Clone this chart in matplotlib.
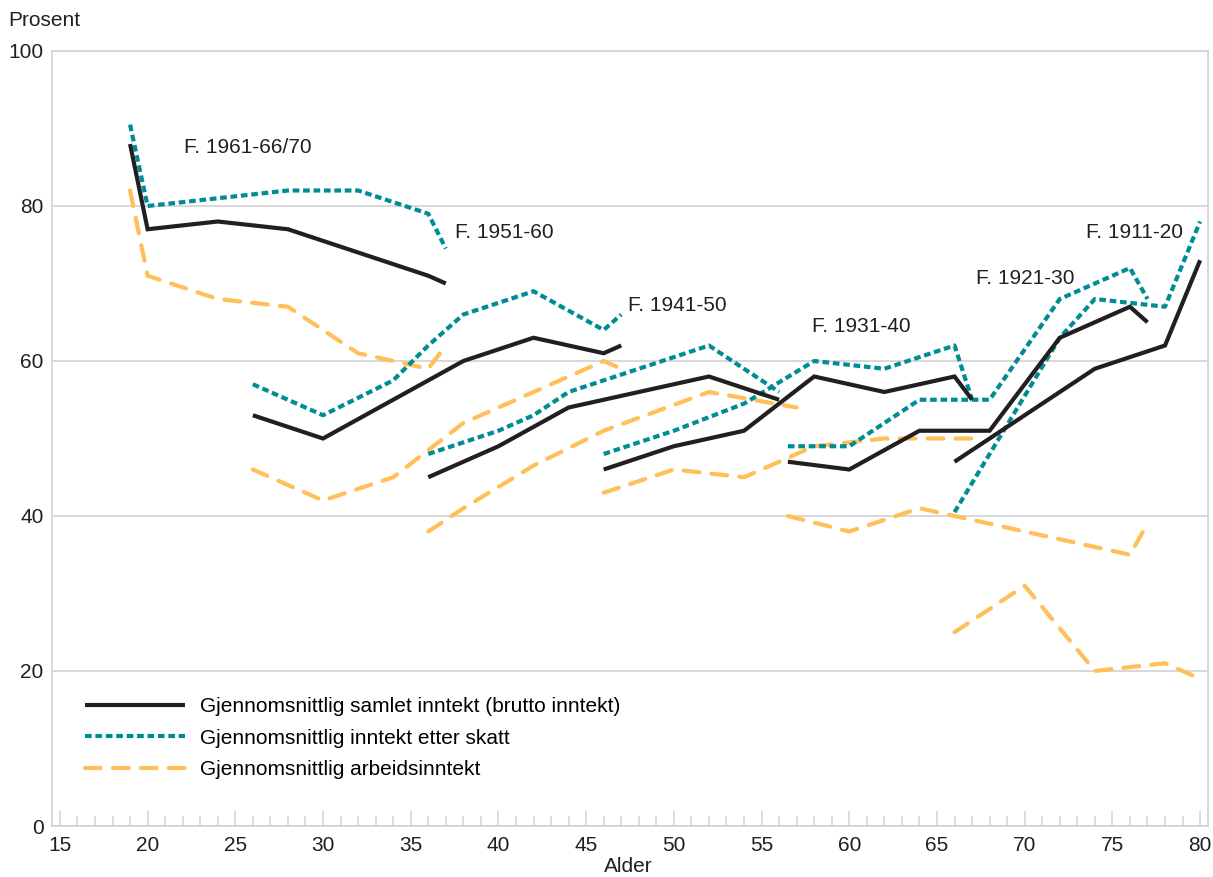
import matplotlib
matplotlib.use("Agg")
import matplotlib.pyplot as plt
from matplotlib.ticker import MultipleLocator
from matplotlib.lines import Line2D

plt.rcParams['font.family'] = ['Liberation Sans', 'DejaVu Sans']

# ---------------- data (alder -> prosent) ----------------
# Cohort F. 1961-66/70
age_1961 = [19, 20, 24, 28, 32, 36, 37]
brutto_1961 = [88, 77, 78, 77, 74, 71, 70]
skatt_1961 = [90.5, 80, 81, 82, 82, 79, 74.5]
arbeid_1961 = [82, 71, 68, 67, 61, 59, 62]

# Cohort F. 1951-60
age_1951 = [26, 30, 34, 36, 38, 42, 46, 47]
brutto_1951 = [53, 50, 55, 57.5, 60, 63, 61, 62]
skatt_1951 = [57, 53, 57.5, 62, 66, 69, 64, 66]
arbeid_1951 = [46, 42, 45, 48.5, 52, 56, 60, 59]

# Cohort F. 1941-50
age_1941 = [36, 38, 40, 42, 44, 46, 52, 56]
brutto_1941 = [45, 47, 49, 51.5, 54, 55, 58, 55]
skatt_1941 = [48, 49.5, 51, 53, 56, 57.5, 62, 56]
age_1941_arb = [36, 38, 42, 46, 52, 57]
arbeid_1941 = [38, 41, 46.5, 51, 56, 54]

# Cohort F. 1931-40
age_1931 = [46, 50, 54, 58, 62, 66, 67]
brutto_1931 = [46, 49, 51, 58, 56, 58, 55]
skatt_1931 = [48, 51, 54.5, 60, 59, 62, 55]
arbeid_1931 = [43, 46, 45, 49, 50, 50, 50]

# Cohort F. 1921-30
age_1921 = [56.5, 60, 64, 68, 72, 76, 77]
brutto_1921 = [47, 46, 51, 51, 63, 67, 65]
skatt_1921 = [49, 49, 55, 55, 68, 72, 68]
arbeid_1921 = [40, 38, 41, 39, 37, 35, 39]

# Cohort F. 1911-20
age_1911 = [66, 68, 74, 78, 80]
brutto_1911 = [47, 50, 59, 62, 73]
age_1911_skatt = [66, 72, 74, 78, 80]
skatt_1911 = [40.5, 63, 68, 67, 78]
age_1911_arb = [66, 70, 74, 78, 80]
arbeid_1911 = [25, 31, 20, 21, 19]

cohort_labels = ["F. 1961-66/70", "F. 1951-60", "F. 1941-50",
                 "F. 1931-40", "F. 1921-30", "F. 1911-20"]
label_x = [22.1, 37.5, 47.4, 57.9, 67.2, 73.5]
label_y = [87.5, 76.6, 67.1, 64.5, 70.7, 76.6]

legend_labels = ["Gjennomsnittlig samlet inntekt (brutto inntekt)",
                 "Gjennomsnittlig inntekt etter skatt",
                 "Gjennomsnittlig arbeidsinntekt"]

# ---------------- styles ----------------
BLACK = "#231f20"
TEAL = "#008c95"
ORANGE = "#ffc05a"
GRID = "#d2d2d2"
LW = 3.0
FS = 15

brutto_style = dict(color=BLACK, lw=LW, solid_capstyle='butt', solid_joinstyle='miter')
skatt_style = dict(color=TEAL, lw=LW, dashes=(1.6, 0.9), dash_capstyle='butt')
arbeid_style = dict(color=ORANGE, lw=LW, dashes=(3.8, 2.9), dash_capstyle='round')

W, H = 1213, 877
fig = plt.figure(figsize=(W / 100, H / 100), dpi=100)
ax = fig.add_axes([52 / W, 1 - 826 / H, (1208 - 52) / W, (826 - 51) / H])

series = [
    (age_1961, brutto_1961, age_1961, skatt_1961, age_1961, arbeid_1961),
    (age_1951, brutto_1951, age_1951, skatt_1951, age_1951, arbeid_1951),
    (age_1941, brutto_1941, age_1941, skatt_1941, age_1941_arb, arbeid_1941),
    (age_1931, brutto_1931, age_1931, skatt_1931, age_1931, arbeid_1931),
    (age_1921, brutto_1921, age_1921, skatt_1921, age_1921, arbeid_1921),
    (age_1911, brutto_1911, age_1911_skatt, skatt_1911, age_1911_arb, arbeid_1911),
]

for ab, b, asx, s, aa, a in series:
    ax.plot(aa, a, zorder=3, **arbeid_style)
    ax.plot(asx, s, zorder=4, **skatt_style)
    ax.plot(ab, b, zorder=5, **brutto_style)

for txt, lx, ly in zip(cohort_labels, label_x, label_y):
    ax.text(lx, ly, txt, fontsize=FS, color=BLACK, ha='left', va='center', zorder=6)

ax.set_xlim(14.55, 80.45)
ax.set_ylim(0, 100)
ax.xaxis.set_major_locator(MultipleLocator(5))
ax.xaxis.set_minor_locator(MultipleLocator(1))
ax.set_yticks([0, 20, 40, 60, 80, 100])
ax.yaxis.grid(True, color=GRID, lw=1.2)
ax.set_axisbelow(True)

for sp in ['left', 'right', 'top', 'bottom']:
    ax.spines[sp].set_color(GRID)
    ax.spines[sp].set_linewidth(1.2)

ax.tick_params(axis='x', which='major', direction='in', length=10.5, width=1.1,
               color=GRID, labelsize=FS, labelcolor=BLACK, pad=7)
ax.tick_params(axis='x', which='minor', direction='in', length=7, width=1.1, color=GRID)
ax.tick_params(axis='y', which='major', length=0, labelsize=FS, labelcolor=BLACK, pad=6)

handles = [Line2D([], [], **brutto_style),
           Line2D([], [], **skatt_style),
           Line2D([], [], **arbeid_style)]
ax.legend(handles, legend_labels, loc='upper left',
          bbox_to_anchor=((85 - 52) / (1208 - 52), (826 - 697) / 775),
          frameon=False, fontsize=FS, handlelength=4.8, handletextpad=0.72,
          labelspacing=0.6, borderpad=0, borderaxespad=0)

fig.text(8 / W, 1 - 20 / H, "Prosent", fontsize=FS, color=BLACK, ha='left', va='center')
fig.text(628 / W, 1 - 867 / H, "Alder", fontsize=FS, color=BLACK, ha='center', va='center')

fig.savefig("out.png", dpi=100)
